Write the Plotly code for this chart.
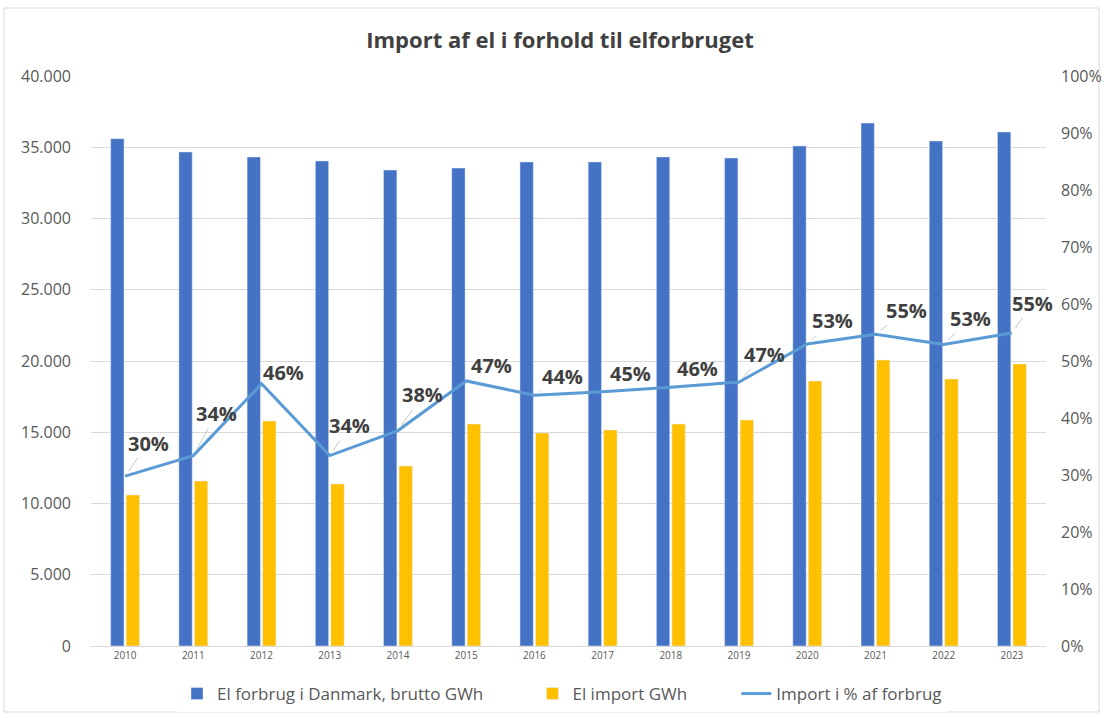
import plotly.graph_objects as go

years = ["2010", "2011", "2012", "2013", "2014", "2015", "2016",
         "2017", "2018", "2019", "2020", "2021", "2022", "2023"]
forbrug_gwh = [35600, 34670, 34320, 34040, 33400, 33540, 33970,
               33970, 34320, 34250, 35090, 36700, 35440, 36070]
import_gwh = [10600, 11580, 15790, 11370, 12630, 15580, 14950,
              15160, 15580, 15860, 18600, 20070, 18740, 19790]
import_pct = [29.8, 33.4, 46.0, 33.4, 37.8, 46.5, 44.0,
              44.6, 45.4, 46.3, 53.0, 54.7, 52.9, 54.9]
pct_labels = ["30%", "34%", "46%", "34%", "38%", "47%", "44%",
              "45%", "46%", "47%", "53%", "55%", "53%", "55%"]

# placement of the data labels relative to their point (pixels)
label_dx = [23, 23, 22, 20, 25, 25, 28, 28, 27, 25, 25, 31, 27, 21]
label_dy = [-33, -42, -11, -30, -36, -15, -19, -18, -19, -28, -23, -24, -26, -30]

FONT = "Open Sans"
PAD = "\u00a0" * 10
fig = go.Figure()
fig.add_trace(go.Bar(x=years, y=forbrug_gwh, name="El forbrug i Danmark, brutto GWh" + PAD,
                     marker_color="#4472C4"))
fig.add_trace(go.Bar(x=years, y=import_gwh, name="El import GWh" + PAD,
                     marker_color="#FFC000"))
fig.add_trace(go.Scatter(x=years, y=import_pct, name="Import i % af forbrug",
                         mode="lines", line=dict(color="#5B9BD5", width=3),
                         yaxis="y2"))

for i, (v, lab) in enumerate(zip(import_pct, pct_labels)):
    fig.add_annotation(x=i, xref="x", y=v, yref="y2", text="<b>%s</b>" % lab,
                       showarrow=True, arrowhead=0, arrowwidth=1, arrowcolor="#C8C8C8",
                       ax=label_dx[i], ay=label_dy[i],
                       font=dict(family=FONT, size=20, color="#404040"),
                       standoff=6)

L, R, T, B = 91, 1046, 76, 646
W, H = R - L, B - T
fig.add_shape(type="rect", xref="paper", yref="paper",
              x0=(4 - L) / W, x1=(1099 - L) / W, y0=(B - 712) / H, y1=(B - 8) / H,
              line=dict(color="#D9D9D9", width=1), fillcolor="rgba(0,0,0,0)", layer="below")

fig.update_layout(
    width=1104, height=718,
    margin=dict(l=L, r=1104 - R, t=T, b=718 - B, autoexpand=False),
    paper_bgcolor="white", plot_bgcolor="white",
    separators=",.",
    barmode="group", bargap=0.545, bargroupgap=0.14,
    title=dict(text="<b>Import af el i forhold til elforbruget</b>", x=(560 - L) / W, xref="paper",
               xanchor="center", y=1 - 40 / 718, yanchor="middle",
               font=dict(family=FONT, size=22, color="#404040")),
    font=dict(family=FONT, color="#595959"),
    xaxis=dict(type="category", showgrid=False, showline=True, linecolor="#D9D9D9", linewidth=1,
               tickfont=dict(size=10, color="#595959"), ticks="", range=[-0.5, 13.5]),
    yaxis=dict(range=[0, 40000], dtick=5000, tickformat=",", showgrid=True,
               gridcolor="#D9D9D9", zeroline=False, tickfont=dict(size=16, color="#595959"),
               ticklabelstandoff=19),
    yaxis2=dict(range=[0, 100], dtick=10, ticksuffix="%", overlaying="y", side="right",
                showgrid=False, zeroline=False, tickfont=dict(size=16, color="#595959"),
                ticklabelstandoff=14),
    legend=dict(orientation="h", x=(562 - L) / W, xanchor="center", y=(B - 694) / H,
                yanchor="middle", font=dict(size=17, color="#595959"), traceorder="normal"),
)

fig.write_html("out.html", config={"displayModeBar": False},
               post_script="document.body.style.margin='0';")
